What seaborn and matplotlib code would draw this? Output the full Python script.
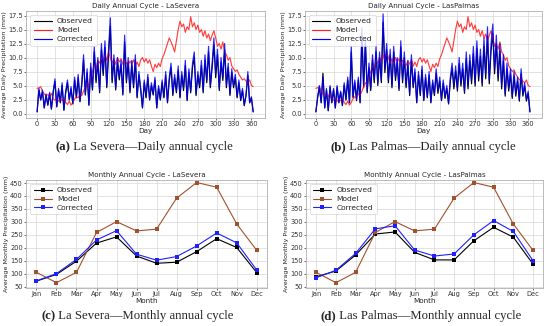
import numpy as np
import pandas as pd
import matplotlib
matplotlib.use("Agg")
import matplotlib.pyplot as plt
import seaborn as sns

# ---------------- data ----------------
day_step = 3
model_daily = [4.5, 4.6, 4.8, 4.0, 3.5, 3.2, 3.4, 3.0, 3.6, 2.6, 2.4, 2.8, 2.2, 2.6, 2.3, 2.7,
               2.0, 1.6, 2.2, 1.5, 2.0, 2.6, 3.0, 2.8, 3.5, 3.2, 4.0, 4.8, 5.5, 5.0, 6.5, 7.5,
               8.5, 8.0, 9.5, 9.0, 10.0, 9.2, 10.5, 9.5, 11.0, 10.0, 9.0, 9.8, 8.8, 10.0, 9.2, 9.8,
               8.8, 9.5, 9.0, 8.6, 9.4, 8.8, 9.6, 8.5, 9.2, 8.4, 9.6, 10.0, 9.2, 9.8, 9.0, 9.6,
               8.5, 7.5, 8.8, 8.2, 9.0, 8.4, 9.8, 10.5, 11.5, 12.5, 13.5, 12.8, 12.0, 11.0, 13.0, 15.0,
               16.5, 15.5, 16.0, 14.5, 15.5, 15.0, 17.3, 15.5, 16.2, 15.0, 15.8, 14.5, 15.0, 13.8, 14.8, 13.5,
               14.2, 13.0, 14.0, 14.8, 13.5, 12.0, 12.5, 11.5, 12.8, 11.0, 10.5, 9.5, 10.0, 8.5, 8.0, 7.5,
               7.8, 7.0, 6.5, 6.0, 6.2, 5.8, 5.5, 6.0, 5.0, 4.8]

sev_corrected = [0.3, 4.5, 2.5, 4.2, 1.0, 3.5, 1.5, 3.8, 0.8, 4.0, 6.2, 1.2, 4.5, 2.0, 5.5, 0.6,
                 4.0, 6.0, 2.5, 4.8, 1.8, 6.5, 3.0, 7.0, 2.2, 5.5, 10.5, 3.5, 8.0, 1.5, 9.0, 4.5,
                 12.0, 6.0, 10.0, 4.0, 12.5, 7.5, 13.0, 5.0, 11.5, 17.1, 6.0, 10.5, 4.5, 10.0, 6.5, 9.5,
                 3.5, 14.0, 6.0, 10.0, 4.0, 9.5, 5.0, 10.5, 3.0, 7.5, 4.5, 1.0, 6.0, 3.0, 7.0, 2.5,
                 5.5, 3.5, 6.5, 1.0, 5.0, 2.5, 6.0, 3.0, 7.5, 2.0, 6.5, 9.0, 3.5, 7.0, 4.0, 8.5,
                 3.0, 7.5, 4.5, 9.5, 2.5, 8.0, 4.0, 9.0, 11.0, 3.5, 7.5, 5.0, 9.5, 4.0, 10.5, 6.0,
                 12.0, 5.0, 9.0, 13.5, 7.0, 11.5, 4.5, 10.0, 6.5, 12.5, 5.0, 9.0, 3.5, 8.0, 5.0, 7.0,
                 3.0, 6.0, 2.5, 4.5, 1.5, 3.5, 7.5, 2.0, 3.0, 0.3]
sev_observed = [0.3, 4.2, 2.4, 3.9, 1.0, 3.3, 1.5, 3.5, 0.8, 3.7, 5.7, 1.2, 4.1, 1.9, 5.0, 0.6,
                3.7, 5.5, 2.4, 4.4, 1.7, 6.0, 2.8, 6.4, 2.1, 5.0, 9.6, 3.3, 7.3, 1.5, 8.2, 4.2,
                11.0, 5.5, 9.1, 3.7, 11.4, 6.8, 11.8, 4.6, 10.5, 15.6, 5.5, 9.6, 4.2, 9.1, 6.0, 8.7,
                3.3, 12.8, 5.5, 9.1, 3.7, 8.7, 4.6, 9.6, 2.8, 6.9, 4.2, 1.0, 5.5, 2.8, 6.4, 2.4,
                5.0, 3.3, 6.0, 1.0, 4.6, 2.4, 5.5, 2.8, 6.8, 1.9, 5.9, 8.2, 3.2, 6.4, 3.7, 7.7,
                2.8, 6.8, 4.1, 8.6, 2.3, 7.3, 3.7, 8.2, 10.0, 3.2, 6.8, 4.6, 8.6, 3.7, 9.6, 5.5,
                11.0, 4.6, 8.2, 12.3, 6.4, 10.5, 4.1, 9.1, 5.9, 11.4, 4.6, 8.2, 3.2, 7.3, 4.6, 6.4,
                2.8, 5.5, 2.3, 4.1, 1.4, 3.2, 6.8, 1.9, 2.8, 0.3]

pal_corrected = [0.3, 3.0, 5.0, 2.0, 6.5, 1.0, 4.5, 0.5, 5.0, 2.0, 4.5, 1.0, 5.0, 2.0, 4.0, 1.5,
                 5.5, 2.5, 6.5, 2.0, 12.0, 3.0, 6.0, 2.5, 6.5, 2.0, 15.3, 5.0, 13.5, 4.0, 9.0, 4.5,
                 10.5, 6.0, 12.0, 5.5, 11.0, 6.0, 17.8, 8.0, 12.5, 6.0, 11.5, 5.0, 12.0, 6.5, 10.0, 4.5,
                 13.0, 6.0, 11.0, 5.0, 9.5, 3.5, 10.5, 5.0, 8.0, 2.0, 7.5, 3.5, 8.5, 2.5, 7.0, 3.0,
                 7.5, 2.0, 6.0, 3.5, 8.0, 4.0, 6.5, 2.5, 6.0, 3.0, 5.0, 1.8, 6.5, 9.0, 5.0, 8.5,
                 4.5, 10.0, 5.5, 9.0, 4.0, 11.0, 5.0, 10.5, 6.0, 12.0, 5.5, 13.0, 6.5, 11.5, 5.5, 13.5,
                 7.0, 15.5, 6.0, 12.5, 16.0, 8.0, 14.0, 6.5, 12.5, 5.0, 10.5, 3.5, 9.0, 4.5, 8.0, 3.0,
                 7.5, 3.5, 6.5, 2.5, 8.0, 3.5, 5.5, 2.5, 4.0, 0.3]
pal_observed = [0.3, 2.8, 4.7, 1.9, 7.2, 1.0, 4.2, 0.5, 4.7, 1.9, 4.2, 1.0, 4.7, 1.9, 3.8, 1.4,
                5.1, 2.4, 6.0, 1.9, 11.0, 2.8, 5.5, 2.3, 6.0, 1.9, 14.0, 4.6, 12.4, 3.7, 8.2, 4.1,
                9.6, 5.5, 11.0, 5.0, 10.0, 5.5, 16.3, 7.3, 11.4, 5.5, 10.5, 4.6, 11.0, 5.9, 9.1, 4.1,
                11.9, 5.5, 10.0, 4.6, 8.7, 3.2, 9.6, 4.6, 7.3, 1.9, 6.9, 3.2, 7.8, 2.3, 6.4, 2.8,
                6.8, 1.9, 5.5, 3.2, 7.2, 3.6, 5.8, 2.3, 5.4, 2.7, 4.5, 1.7, 5.8, 8.0, 4.4, 7.6,
                4.0, 8.9, 4.9, 8.0, 3.6, 9.8, 4.4, 9.4, 5.3, 10.7, 4.9, 11.6, 5.8, 10.2, 4.9, 12.0,
                6.2, 13.8, 5.3, 11.1, 14.3, 7.1, 12.5, 5.8, 11.1, 4.4, 9.4, 3.1, 8.0, 4.0, 7.1, 2.7,
                6.7, 3.1, 5.8, 2.2, 7.1, 3.1, 4.9, 2.2, 3.6, 0.3]

months = ["Jan", "Feb", "Mar", "Apr", "May", "Jun", "Jul", "Aug", "Sep", "Oct", "Nov", "Dec"]
model_monthly = [105, 65, 105, 259, 301, 265, 272, 392, 452, 434, 292, 190]
sev_obs_monthly = [71, 97, 148, 218, 242, 168, 140, 144, 185, 235, 201, 104]
sev_cor_monthly = [72, 100, 155, 230, 266, 175, 152, 166, 207, 257, 219, 114]
pal_obs_monthly = [88, 110, 172, 253, 261, 182, 153, 153, 227, 279, 241, 137]
pal_cor_monthly = [84, 113, 178, 273, 285, 191, 168, 176, 250, 305, 263, 150]

# ---------------- style ----------------
sns.set_theme(style="whitegrid")
plt.rcParams["font.family"] = ["DejaVu Sans"]
plt.rcParams.update({
    "axes.edgecolor": "#b0b0b0",
    "axes.linewidth": 0.6,
    "grid.color": "#d8d8d8",
    "grid.linewidth": 0.5,
    "xtick.color": "#333333",
    "ytick.color": "#333333",
    "xtick.major.size": 1.5,
    "ytick.major.size": 1.5,
    "xtick.bottom": True,
    "ytick.left": True,
    "xtick.major.width": 0.5,
    "ytick.major.width": 0.5,
    "xtick.major.pad": 1.0,
    "ytick.major.pad": 1.0,
})

FS = 4.8
fig = plt.figure(figsize=(5.5, 3.26), dpi=100)

def style_legend(ax):
    leg = ax.legend(loc="upper left", fontsize=FS + 0.6, frameon=True, handlelength=2.4,
                    borderpad=0.45, labelspacing=0.35, handletextpad=0.7)
    leg.get_frame().set_linewidth(0.5)
    leg.get_frame().set_edgecolor("#cccccc")

def daily_panel(rect, obs, cor, title):
    ax = fig.add_axes(rect)
    n = len(model_daily)
    days = np.arange(0, n * day_step, day_step)
    df = pd.DataFrame({
        "Day": np.concatenate([days, days, days]),
        "val": np.concatenate([obs, model_daily, cor]),
        "series": ["Observed"] * n + ["Model"] * n + ["Corrected"] * n,
    })
    sns.lineplot(data=df, x="Day", y="val", hue="series",
                 palette={"Observed": "black", "Model": "#ff2020", "Corrected": "#0000ff"},
                 linewidth=0.85, ax=ax, sort=False)
    for line, a in zip(ax.get_lines()[:3], [1.0, 0.85, 0.85]):
        line.set_alpha(a)
    ax.set_xticks(range(0, 361, 30))
    ax.set_yticks(np.arange(0, 17.6, 2.5))
    ax.set_xlim(-18, 383)
    ax.set_ylim(-0.8, 18.3)
    ax.tick_params(labelsize=FS)
    ax.set_xlabel("Day", fontsize=FS + 0.4, labelpad=0.5)
    ax.set_ylabel("Average Daily Precipitation (mm)", fontsize=FS - 0.2, labelpad=1)
    ax.set_title(title, fontsize=FS + 0.3, pad=2)
    style_legend(ax)
    for s in ax.spines.values():
        s.set_visible(True)
    return ax

def monthly_panel(rect, obs, cor, title):
    ax = fig.add_axes(rect)
    n = len(months)
    df = pd.DataFrame({
        "Month": months * 3,
        "val": obs + model_monthly + cor,
        "series": ["Observed"] * n + ["Model"] * n + ["Corrected"] * n,
    })
    sns.lineplot(data=df, x="Month", y="val", hue="series",
                 palette={"Observed": "black", "Model": "#a0522d", "Corrected": "#2020ff"},
                 linewidth=0.8, marker="s", markersize=2.2, markeredgewidth=0,
                 ax=ax, sort=False)
    ax.set_yticks(range(50, 451, 50))
    ax.set_ylim(45, 462)
    ax.set_xlim(-0.5, 11.5)
    ax.tick_params(labelsize=FS)
    ax.set_xlabel("Month", fontsize=FS + 0.4, labelpad=0.5)
    ax.set_ylabel("Average Monthly Precipitation (mm)", fontsize=FS - 0.2, labelpad=1)
    ax.set_title(title, fontsize=FS + 0.3, pad=2)
    style_legend(ax)
    for s in ax.spines.values():
        s.set_visible(True)
    return ax

daily_panel([0.048, 0.638, 0.434, 0.328], sev_observed, sev_corrected, "Daily Annual Cycle - LaSevera")
daily_panel([0.555, 0.638, 0.430, 0.328], pal_observed, pal_corrected, "Daily Annual Cycle - LasPalmas")
monthly_panel([0.048, 0.117, 0.437, 0.331], sev_obs_monthly, sev_cor_monthly, "Monthly Annual Cycle - LaSevera")
monthly_panel([0.557, 0.117, 0.430, 0.331], pal_obs_monthly, pal_cor_monthly, "Monthly Annual Cycle - LasPalmas")

CAP_FONT = ["Liberation Serif", "DejaVu Serif"]
CAP_SIZE = 9.2
captions = [
    (0.262, 0.549, "(a)", " La Severa\u2014Daily annual cycle"),
    (0.77, 0.549, "(b)", " Las Palmas\u2014Daily annual cycle"),
    (0.25, 0.031, "(c)", " La Severa\u2014Monthly annual cycle"),
    (0.765, 0.031, "(d)", " Las Palmas\u2014Monthly annual cycle"),
]
fig.canvas.draw()
renderer = fig.canvas.get_renderer()
for x, y, lab, txt in captions:
    ta = fig.text(0, y, lab, fontsize=CAP_SIZE, family=CAP_FONT, weight="bold",
                  ha="left", va="center")
    tb = fig.text(0, y, txt, fontsize=CAP_SIZE, family=CAP_FONT,
                  ha="left", va="center")
    wa = ta.get_window_extent(renderer).width / fig.bbox.width
    wb = tb.get_window_extent(renderer).width / fig.bbox.width
    left = x - (wa + wb) / 2
    ta.set_x(left)
    tb.set_x(left + wa)

fig.savefig("out.png", dpi=100)
